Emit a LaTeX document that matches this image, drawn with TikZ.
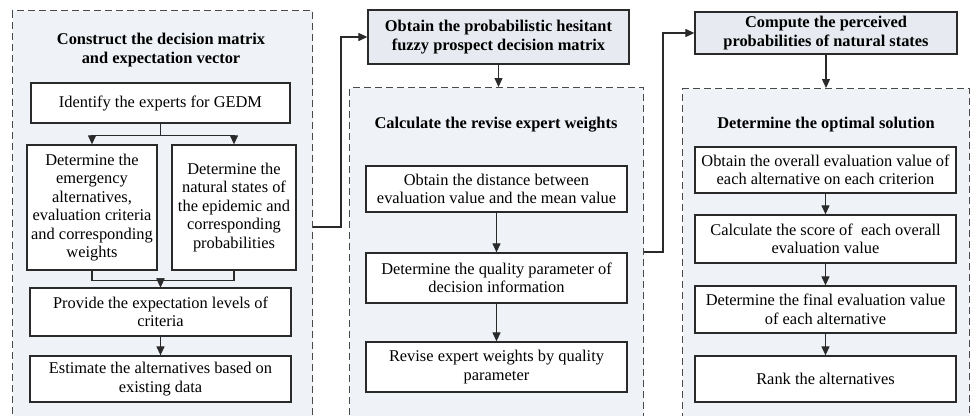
\documentclass[tikz,border=0pt]{standalone}
\usepackage{fontspec}
\setmainfont{Liberation Serif}
\usetikzlibrary{arrows.meta}
\definecolor{panelfill}{HTML}{EFF2F7}
\definecolor{headfill}{HTML}{E7EBF1}
\definecolor{dashcol}{HTML}{4A4A4A}
\definecolor{linecol}{HTML}{2A2A2A}
\tikzset{
  txt/.style={font=\fontsize{16.4}{18.5}\selectfont},
  box/.style={draw=linecol, line width=1.3pt, fill=white, align=center, inner sep=0pt, txt},
  headbox/.style={box, fill=headfill, font=\fontsize{16.4}{18.5}\selectfont\bfseries},
  dbox/.style={draw=dashcol, line width=1.1pt, dash pattern=on 7pt off 4pt, fill=panelfill, inner sep=0pt, anchor=north west},
  ttl/.style={align=center, font=\fontsize{16.4}{18.5}\selectfont\bfseries, inner sep=0pt},
  conn/.style={draw=linecol, line width=1.2pt},
  arr/.style={conn, -{Triangle[length=9pt,width=8pt]}}
}
\begin{document}
\begin{tikzpicture}[x=1pt,y=-1pt]
\useasboundingbox (0,0) rectangle (971,415);
\fill[white] (0,0) rectangle (971,415);

% panels
\node[dbox, minimum width=300pt, minimum height=412pt] (D1) at (12,10) {};
\node[dbox, minimum width=294pt, minimum height=335pt] (D2) at (349,87) {};
\node[dbox, minimum width=287pt, minimum height=334pt] (D3) at (682,88) {};

% panel 1
\node[ttl] (T1) at (161,50) {Construct the decision matrix\\and expectation vector};
\node[box, minimum width=259pt, minimum height=40pt] (Bid) at (160.5,103) {Identify the experts for GEDM};
\node[box, minimum width=130pt, minimum height=125pt] (L) at (92,207.5) {Determine the\\emergency\\alternatives,\\evaluation criteria\\and corresponding\\weights};
\node[box, minimum width=124pt, minimum height=125pt] (R) at (234,207.5) {Determine the\\natural states of\\the epidemic and\\corresponding\\probabilities};
\node[box, minimum width=261pt, minimum height=48pt] (P) at (160.5,312) {Provide the expectation levels of\\criteria};
\node[box, minimum width=261pt, minimum height=46pt] (E) at (160.5,379) {Estimate the alternatives based on\\existing data};

\draw[arr] (Bid.south) -- ++(0,12) -| (L.north);
\draw[arr] (Bid.south) -- ++(0,12) -| (R.north);
\draw[arr] (L.south) -- ++(0,10) -| (P.north);
\draw[arr] (R.south) -- ++(0,10) -| (P.north);
\draw[arr] (P.south) -- (E.north);

% head 2
\node[headbox, minimum width=261pt, minimum height=54pt] (B2) at (498.5,37) {Obtain the probabilistic hesitant\\fuzzy prospect decision matrix};
\coordinate (c1) at (341,227);
\draw[arr] (D1.east |- c1) -- (c1) |- (B2.west);
\draw[arr] (B2.south) -- (B2.south |- D2.north);

% panel 2
\node[ttl] (T2) at (496,125) {Calculate the revise expert weights};
\node[box, minimum width=261pt, minimum height=46pt] (M1) at (496.5,189) {Obtain the distance between\\evaluation value and the mean value};
\node[box, minimum width=261pt, minimum height=50pt] (M2) at (496.5,278) {Determine the quality parameter of\\decision information};
\node[box, minimum width=261pt, minimum height=50pt] (M3) at (496.5,367) {Revise expert weights by quality\\parameter};
\draw[arr] (M1.south) -- (M2.north);
\draw[arr] (M2.south) -- (M3.north);

% head 3
\node[headbox, minimum width=262pt, minimum height=42pt] (B3) at (826,33) {Compute the perceived\\probabilities of natural states};
\coordinate (c2) at (663,252);
\draw[arr] (D2.east |- c2) -- (c2) |- (B3.west);
\draw[arr] (B3.south) -- (B3.south |- D3.north);

% panel 3
\node[ttl] (T3) at (826,125) {Determine the optimal solution};
\node[box, minimum width=261pt, minimum height=46pt] (R1) at (825.5,170) {Obtain the overall evaluation value of\\each alternative on each criterion};
\node[box, minimum width=261pt, minimum height=48pt] (R2) at (825.5,239) {Calculate the score of~ each overall\\evaluation value};
\node[box, minimum width=261pt, minimum height=47pt] (R3) at (825.5,309.5) {Determine the final evaluation value\\of each alternative};
\node[box, minimum width=261pt, minimum height=46pt] (R4) at (825.5,379) {Rank the alternatives};
\draw[arr] (R1.south) -- (R2.north);
\draw[arr] (R2.south) -- (R3.north);
\draw[arr] (R3.south) -- (R4.north);
\end{tikzpicture}
\end{document}
